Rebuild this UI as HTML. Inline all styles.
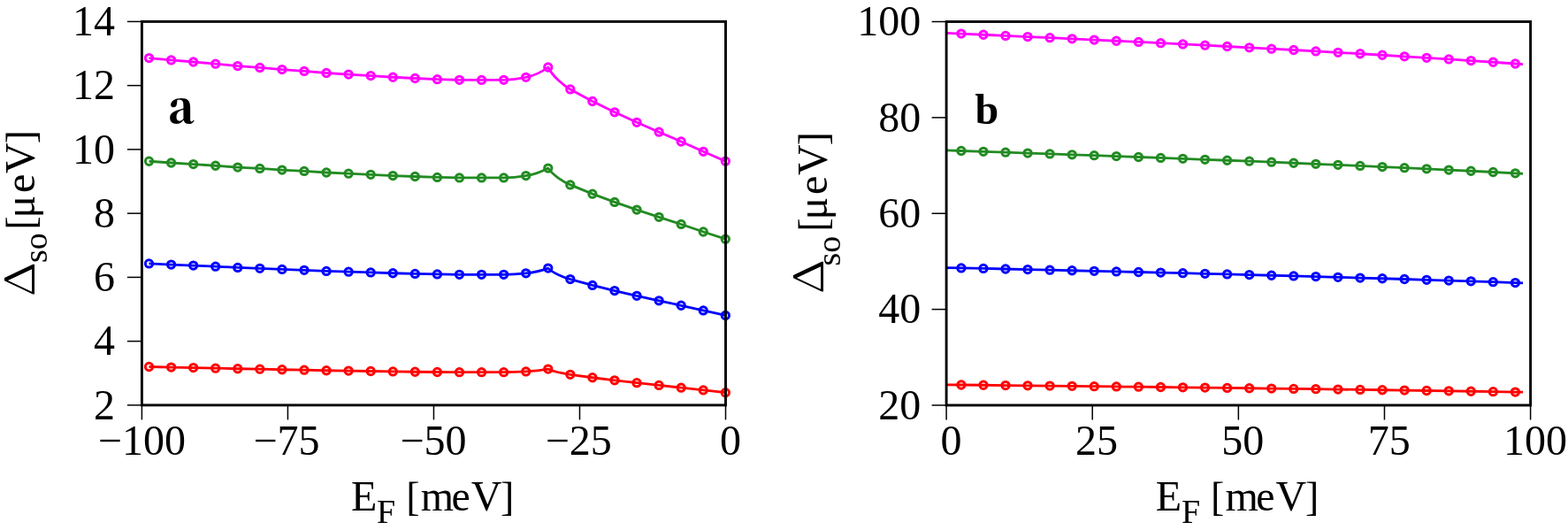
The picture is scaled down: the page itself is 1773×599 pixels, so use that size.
<!DOCTYPE html>
<html><head><meta charset="utf-8"><title>plot</title>
<style>html,body{margin:0;padding:0;background:#fff;overflow:hidden}svg{display:block}</style>
</head><body>
<svg width="1773" height="599" viewBox="0 0 1773 599">
<rect width="100%" height="100%" fill="#fff"/>
<g fill="none" stroke-linejoin="round" stroke-linecap="butt">
<path d="M168.50,65.60 L193.57,67.90 L218.64,70.00 L243.71,72.20 L268.78,74.60 L293.85,76.40 L318.92,78.60 L343.99,80.40 L369.06,82.50 L394.13,84.05 L419.20,85.60 L444.27,87.26 L469.34,88.50 L494.41,89.65 L519.48,90.30 L544.55,90.40 L569.62,90.30 C577.62,90.20 586.69,89.00 594.69,87.30 C602.69,85.80 611.76,82.00 619.76,76.00 C624.76,86.00 636.83,96.50 644.83,100.90 L669.90,114.50 L694.97,126.80 L720.04,138.30 L745.11,149.20 L770.18,160.00 L795.25,171.30 L820.32,182.20" stroke="#ff00ff" stroke-width="2.8"/>
<circle cx="168.50" cy="65.60" r="4.15" stroke="#ff00ff" stroke-width="3.0"/>
<circle cx="193.57" cy="67.90" r="4.15" stroke="#ff00ff" stroke-width="3.0"/>
<circle cx="218.64" cy="70.00" r="4.15" stroke="#ff00ff" stroke-width="3.0"/>
<circle cx="243.71" cy="72.20" r="4.15" stroke="#ff00ff" stroke-width="3.0"/>
<circle cx="268.78" cy="74.60" r="4.15" stroke="#ff00ff" stroke-width="3.0"/>
<circle cx="293.85" cy="76.40" r="4.15" stroke="#ff00ff" stroke-width="3.0"/>
<circle cx="318.92" cy="78.60" r="4.15" stroke="#ff00ff" stroke-width="3.0"/>
<circle cx="343.99" cy="80.40" r="4.15" stroke="#ff00ff" stroke-width="3.0"/>
<circle cx="369.06" cy="82.50" r="4.15" stroke="#ff00ff" stroke-width="3.0"/>
<circle cx="394.13" cy="84.05" r="4.15" stroke="#ff00ff" stroke-width="3.0"/>
<circle cx="419.20" cy="85.60" r="4.15" stroke="#ff00ff" stroke-width="3.0"/>
<circle cx="444.27" cy="87.26" r="4.15" stroke="#ff00ff" stroke-width="3.0"/>
<circle cx="469.34" cy="88.50" r="4.15" stroke="#ff00ff" stroke-width="3.0"/>
<circle cx="494.41" cy="89.65" r="4.15" stroke="#ff00ff" stroke-width="3.0"/>
<circle cx="519.48" cy="90.30" r="4.15" stroke="#ff00ff" stroke-width="3.0"/>
<circle cx="544.55" cy="90.40" r="4.15" stroke="#ff00ff" stroke-width="3.0"/>
<circle cx="569.62" cy="90.30" r="4.15" stroke="#ff00ff" stroke-width="3.0"/>
<circle cx="594.69" cy="87.30" r="4.15" stroke="#ff00ff" stroke-width="3.0"/>
<circle cx="619.76" cy="76.00" r="4.15" stroke="#ff00ff" stroke-width="3.0"/>
<circle cx="644.83" cy="100.90" r="4.15" stroke="#ff00ff" stroke-width="3.0"/>
<circle cx="669.90" cy="114.50" r="4.15" stroke="#ff00ff" stroke-width="3.0"/>
<circle cx="694.97" cy="126.80" r="4.15" stroke="#ff00ff" stroke-width="3.0"/>
<circle cx="720.04" cy="138.30" r="4.15" stroke="#ff00ff" stroke-width="3.0"/>
<circle cx="745.11" cy="149.20" r="4.15" stroke="#ff00ff" stroke-width="3.0"/>
<circle cx="770.18" cy="160.00" r="4.15" stroke="#ff00ff" stroke-width="3.0"/>
<circle cx="795.25" cy="171.30" r="4.15" stroke="#ff00ff" stroke-width="3.0"/>
<circle cx="820.32" cy="182.20" r="4.15" stroke="#ff00ff" stroke-width="3.0"/>
<path d="M168.50,182.25 L193.57,183.98 L218.64,185.57 L243.71,187.23 L268.78,189.04 L293.85,190.40 L318.92,192.06 L343.99,193.41 L369.06,195.00 L394.13,196.17 L419.20,197.34 L444.27,198.59 L469.34,199.52 L494.41,200.39 L519.48,200.88 L544.55,200.96 L569.62,200.88 C577.62,200.81 586.69,199.90 594.69,198.62 C602.69,197.49 611.76,194.62 619.76,190.09 C624.76,197.64 636.83,205.56 644.83,208.88 L669.90,219.14 L694.97,228.41 L720.04,237.09 L745.11,245.31 L770.18,253.46 L795.25,261.98 L820.32,270.20" stroke="#228b22" stroke-width="2.8"/>
<circle cx="168.50" cy="182.25" r="4.15" stroke="#228b22" stroke-width="3.0"/>
<circle cx="193.57" cy="183.98" r="4.15" stroke="#228b22" stroke-width="3.0"/>
<circle cx="218.64" cy="185.57" r="4.15" stroke="#228b22" stroke-width="3.0"/>
<circle cx="243.71" cy="187.23" r="4.15" stroke="#228b22" stroke-width="3.0"/>
<circle cx="268.78" cy="189.04" r="4.15" stroke="#228b22" stroke-width="3.0"/>
<circle cx="293.85" cy="190.40" r="4.15" stroke="#228b22" stroke-width="3.0"/>
<circle cx="318.92" cy="192.06" r="4.15" stroke="#228b22" stroke-width="3.0"/>
<circle cx="343.99" cy="193.41" r="4.15" stroke="#228b22" stroke-width="3.0"/>
<circle cx="369.06" cy="195.00" r="4.15" stroke="#228b22" stroke-width="3.0"/>
<circle cx="394.13" cy="196.17" r="4.15" stroke="#228b22" stroke-width="3.0"/>
<circle cx="419.20" cy="197.34" r="4.15" stroke="#228b22" stroke-width="3.0"/>
<circle cx="444.27" cy="198.59" r="4.15" stroke="#228b22" stroke-width="3.0"/>
<circle cx="469.34" cy="199.52" r="4.15" stroke="#228b22" stroke-width="3.0"/>
<circle cx="494.41" cy="200.39" r="4.15" stroke="#228b22" stroke-width="3.0"/>
<circle cx="519.48" cy="200.88" r="4.15" stroke="#228b22" stroke-width="3.0"/>
<circle cx="544.55" cy="200.96" r="4.15" stroke="#228b22" stroke-width="3.0"/>
<circle cx="569.62" cy="200.88" r="4.15" stroke="#228b22" stroke-width="3.0"/>
<circle cx="594.69" cy="198.62" r="4.15" stroke="#228b22" stroke-width="3.0"/>
<circle cx="619.76" cy="190.09" r="4.15" stroke="#228b22" stroke-width="3.0"/>
<circle cx="644.83" cy="208.88" r="4.15" stroke="#228b22" stroke-width="3.0"/>
<circle cx="669.90" cy="219.14" r="4.15" stroke="#228b22" stroke-width="3.0"/>
<circle cx="694.97" cy="228.41" r="4.15" stroke="#228b22" stroke-width="3.0"/>
<circle cx="720.04" cy="237.09" r="4.15" stroke="#228b22" stroke-width="3.0"/>
<circle cx="745.11" cy="245.31" r="4.15" stroke="#228b22" stroke-width="3.0"/>
<circle cx="770.18" cy="253.46" r="4.15" stroke="#228b22" stroke-width="3.0"/>
<circle cx="795.25" cy="261.98" r="4.15" stroke="#228b22" stroke-width="3.0"/>
<circle cx="820.32" cy="270.20" r="4.15" stroke="#228b22" stroke-width="3.0"/>
<path d="M168.50,297.90 L193.57,299.05 L218.64,300.11 L243.71,301.21 L268.78,302.42 L293.85,303.32 L318.92,304.42 L343.99,305.33 L369.06,306.38 L394.13,307.16 L419.20,307.93 L444.27,308.77 L469.34,309.39 L494.41,309.97 L519.48,310.29 L544.55,310.34 L569.62,310.29 C577.62,310.24 586.69,309.64 594.69,308.79 C602.69,308.03 611.76,306.13 619.76,303.12 C624.76,308.13 636.83,313.40 644.83,315.61 L669.90,322.43 L694.97,328.60 L720.04,334.37 L745.11,339.84 L770.18,345.26 L795.25,350.93 L820.32,356.40" stroke="#0000ff" stroke-width="2.8"/>
<circle cx="168.50" cy="297.90" r="4.15" stroke="#0000ff" stroke-width="3.0"/>
<circle cx="193.57" cy="299.05" r="4.15" stroke="#0000ff" stroke-width="3.0"/>
<circle cx="218.64" cy="300.11" r="4.15" stroke="#0000ff" stroke-width="3.0"/>
<circle cx="243.71" cy="301.21" r="4.15" stroke="#0000ff" stroke-width="3.0"/>
<circle cx="268.78" cy="302.42" r="4.15" stroke="#0000ff" stroke-width="3.0"/>
<circle cx="293.85" cy="303.32" r="4.15" stroke="#0000ff" stroke-width="3.0"/>
<circle cx="318.92" cy="304.42" r="4.15" stroke="#0000ff" stroke-width="3.0"/>
<circle cx="343.99" cy="305.33" r="4.15" stroke="#0000ff" stroke-width="3.0"/>
<circle cx="369.06" cy="306.38" r="4.15" stroke="#0000ff" stroke-width="3.0"/>
<circle cx="394.13" cy="307.16" r="4.15" stroke="#0000ff" stroke-width="3.0"/>
<circle cx="419.20" cy="307.93" r="4.15" stroke="#0000ff" stroke-width="3.0"/>
<circle cx="444.27" cy="308.77" r="4.15" stroke="#0000ff" stroke-width="3.0"/>
<circle cx="469.34" cy="309.39" r="4.15" stroke="#0000ff" stroke-width="3.0"/>
<circle cx="494.41" cy="309.97" r="4.15" stroke="#0000ff" stroke-width="3.0"/>
<circle cx="519.48" cy="310.29" r="4.15" stroke="#0000ff" stroke-width="3.0"/>
<circle cx="544.55" cy="310.34" r="4.15" stroke="#0000ff" stroke-width="3.0"/>
<circle cx="569.62" cy="310.29" r="4.15" stroke="#0000ff" stroke-width="3.0"/>
<circle cx="594.69" cy="308.79" r="4.15" stroke="#0000ff" stroke-width="3.0"/>
<circle cx="619.76" cy="303.12" r="4.15" stroke="#0000ff" stroke-width="3.0"/>
<circle cx="644.83" cy="315.61" r="4.15" stroke="#0000ff" stroke-width="3.0"/>
<circle cx="669.90" cy="322.43" r="4.15" stroke="#0000ff" stroke-width="3.0"/>
<circle cx="694.97" cy="328.60" r="4.15" stroke="#0000ff" stroke-width="3.0"/>
<circle cx="720.04" cy="334.37" r="4.15" stroke="#0000ff" stroke-width="3.0"/>
<circle cx="745.11" cy="339.84" r="4.15" stroke="#0000ff" stroke-width="3.0"/>
<circle cx="770.18" cy="345.26" r="4.15" stroke="#0000ff" stroke-width="3.0"/>
<circle cx="795.25" cy="350.93" r="4.15" stroke="#0000ff" stroke-width="3.0"/>
<circle cx="820.32" cy="356.40" r="4.15" stroke="#0000ff" stroke-width="3.0"/>
<path d="M168.50,414.50 L193.57,415.08 L218.64,415.60 L243.71,416.15 L268.78,416.75 L293.85,417.20 L318.92,417.76 L343.99,418.21 L369.06,418.73 L394.13,419.12 L419.20,419.51 L444.27,419.92 L469.34,420.23 L494.41,420.52 L519.48,420.68 L544.55,420.71 L569.62,420.68 C577.62,420.66 586.69,420.36 594.69,419.93 C602.69,419.56 611.76,418.61 619.76,417.10 C624.76,419.61 636.83,422.24 644.83,423.34 L669.90,426.74 L694.97,429.82 L720.04,432.70 L745.11,435.43 L770.18,438.14 L795.25,440.97 L820.32,443.70" stroke="#ff0000" stroke-width="2.8"/>
<circle cx="168.50" cy="414.50" r="4.15" stroke="#ff0000" stroke-width="3.0"/>
<circle cx="193.57" cy="415.08" r="4.15" stroke="#ff0000" stroke-width="3.0"/>
<circle cx="218.64" cy="415.60" r="4.15" stroke="#ff0000" stroke-width="3.0"/>
<circle cx="243.71" cy="416.15" r="4.15" stroke="#ff0000" stroke-width="3.0"/>
<circle cx="268.78" cy="416.75" r="4.15" stroke="#ff0000" stroke-width="3.0"/>
<circle cx="293.85" cy="417.20" r="4.15" stroke="#ff0000" stroke-width="3.0"/>
<circle cx="318.92" cy="417.76" r="4.15" stroke="#ff0000" stroke-width="3.0"/>
<circle cx="343.99" cy="418.21" r="4.15" stroke="#ff0000" stroke-width="3.0"/>
<circle cx="369.06" cy="418.73" r="4.15" stroke="#ff0000" stroke-width="3.0"/>
<circle cx="394.13" cy="419.12" r="4.15" stroke="#ff0000" stroke-width="3.0"/>
<circle cx="419.20" cy="419.51" r="4.15" stroke="#ff0000" stroke-width="3.0"/>
<circle cx="444.27" cy="419.92" r="4.15" stroke="#ff0000" stroke-width="3.0"/>
<circle cx="469.34" cy="420.23" r="4.15" stroke="#ff0000" stroke-width="3.0"/>
<circle cx="494.41" cy="420.52" r="4.15" stroke="#ff0000" stroke-width="3.0"/>
<circle cx="519.48" cy="420.68" r="4.15" stroke="#ff0000" stroke-width="3.0"/>
<circle cx="544.55" cy="420.71" r="4.15" stroke="#ff0000" stroke-width="3.0"/>
<circle cx="569.62" cy="420.68" r="4.15" stroke="#ff0000" stroke-width="3.0"/>
<circle cx="594.69" cy="419.93" r="4.15" stroke="#ff0000" stroke-width="3.0"/>
<circle cx="619.76" cy="417.10" r="4.15" stroke="#ff0000" stroke-width="3.0"/>
<circle cx="644.83" cy="423.34" r="4.15" stroke="#ff0000" stroke-width="3.0"/>
<circle cx="669.90" cy="426.74" r="4.15" stroke="#ff0000" stroke-width="3.0"/>
<circle cx="694.97" cy="429.82" r="4.15" stroke="#ff0000" stroke-width="3.0"/>
<circle cx="720.04" cy="432.70" r="4.15" stroke="#ff0000" stroke-width="3.0"/>
<circle cx="745.11" cy="435.43" r="4.15" stroke="#ff0000" stroke-width="3.0"/>
<circle cx="770.18" cy="438.14" r="4.15" stroke="#ff0000" stroke-width="3.0"/>
<circle cx="795.25" cy="440.97" r="4.15" stroke="#ff0000" stroke-width="3.0"/>
<circle cx="820.32" cy="443.70" r="4.15" stroke="#ff0000" stroke-width="3.0"/>
</g>
<g fill="none" stroke-linejoin="round">
<path d="M1070.10,37.34 L1086.90,38.10 L1111.96,39.24 L1137.02,40.38 L1162.08,41.53 L1187.14,42.69 L1212.20,43.86 L1237.26,45.04 L1262.32,46.23 L1287.38,47.45 L1312.44,48.67 L1337.50,49.92 L1362.56,51.19 L1387.62,52.48 L1412.68,53.79 L1437.74,55.13 L1462.80,56.49 L1487.86,57.89 L1512.92,59.31 L1537.98,60.77 L1563.04,62.26 L1588.10,63.78 L1613.16,65.34 L1638.22,66.94 L1663.28,68.58 L1688.34,70.26 L1713.40,71.98 L1722.00,72.57" stroke="#ff00ff" stroke-width="2.8"/>
<circle cx="1086.90" cy="38.10" r="4.15" stroke="#ff00ff" stroke-width="3.0"/>
<circle cx="1111.96" cy="39.24" r="4.15" stroke="#ff00ff" stroke-width="3.0"/>
<circle cx="1137.02" cy="40.38" r="4.15" stroke="#ff00ff" stroke-width="3.0"/>
<circle cx="1162.08" cy="41.53" r="4.15" stroke="#ff00ff" stroke-width="3.0"/>
<circle cx="1187.14" cy="42.69" r="4.15" stroke="#ff00ff" stroke-width="3.0"/>
<circle cx="1212.20" cy="43.86" r="4.15" stroke="#ff00ff" stroke-width="3.0"/>
<circle cx="1237.26" cy="45.04" r="4.15" stroke="#ff00ff" stroke-width="3.0"/>
<circle cx="1262.32" cy="46.23" r="4.15" stroke="#ff00ff" stroke-width="3.0"/>
<circle cx="1287.38" cy="47.45" r="4.15" stroke="#ff00ff" stroke-width="3.0"/>
<circle cx="1312.44" cy="48.67" r="4.15" stroke="#ff00ff" stroke-width="3.0"/>
<circle cx="1337.50" cy="49.92" r="4.15" stroke="#ff00ff" stroke-width="3.0"/>
<circle cx="1362.56" cy="51.19" r="4.15" stroke="#ff00ff" stroke-width="3.0"/>
<circle cx="1387.62" cy="52.48" r="4.15" stroke="#ff00ff" stroke-width="3.0"/>
<circle cx="1412.68" cy="53.79" r="4.15" stroke="#ff00ff" stroke-width="3.0"/>
<circle cx="1437.74" cy="55.13" r="4.15" stroke="#ff00ff" stroke-width="3.0"/>
<circle cx="1462.80" cy="56.49" r="4.15" stroke="#ff00ff" stroke-width="3.0"/>
<circle cx="1487.86" cy="57.89" r="4.15" stroke="#ff00ff" stroke-width="3.0"/>
<circle cx="1512.92" cy="59.31" r="4.15" stroke="#ff00ff" stroke-width="3.0"/>
<circle cx="1537.98" cy="60.77" r="4.15" stroke="#ff00ff" stroke-width="3.0"/>
<circle cx="1563.04" cy="62.26" r="4.15" stroke="#ff00ff" stroke-width="3.0"/>
<circle cx="1588.10" cy="63.78" r="4.15" stroke="#ff00ff" stroke-width="3.0"/>
<circle cx="1613.16" cy="65.34" r="4.15" stroke="#ff00ff" stroke-width="3.0"/>
<circle cx="1638.22" cy="66.94" r="4.15" stroke="#ff00ff" stroke-width="3.0"/>
<circle cx="1663.28" cy="68.58" r="4.15" stroke="#ff00ff" stroke-width="3.0"/>
<circle cx="1688.34" cy="70.26" r="4.15" stroke="#ff00ff" stroke-width="3.0"/>
<circle cx="1713.40" cy="71.98" r="4.15" stroke="#ff00ff" stroke-width="3.0"/>
<path d="M1070.10,169.93 L1086.90,170.50 L1111.96,171.35 L1137.02,172.20 L1162.08,173.06 L1187.14,173.93 L1212.20,174.80 L1237.26,175.68 L1262.32,176.58 L1287.38,177.48 L1312.44,178.40 L1337.50,179.33 L1362.56,180.28 L1387.62,181.24 L1412.68,182.22 L1437.74,183.22 L1462.80,184.24 L1487.86,185.28 L1512.92,186.35 L1537.98,187.43 L1563.04,188.54 L1588.10,189.68 L1613.16,190.85 L1638.22,192.04 L1663.28,193.27 L1688.34,194.52 L1713.40,195.81 L1722.00,196.25" stroke="#228b22" stroke-width="2.8"/>
<circle cx="1086.90" cy="170.50" r="4.15" stroke="#228b22" stroke-width="3.0"/>
<circle cx="1111.96" cy="171.35" r="4.15" stroke="#228b22" stroke-width="3.0"/>
<circle cx="1137.02" cy="172.20" r="4.15" stroke="#228b22" stroke-width="3.0"/>
<circle cx="1162.08" cy="173.06" r="4.15" stroke="#228b22" stroke-width="3.0"/>
<circle cx="1187.14" cy="173.93" r="4.15" stroke="#228b22" stroke-width="3.0"/>
<circle cx="1212.20" cy="174.80" r="4.15" stroke="#228b22" stroke-width="3.0"/>
<circle cx="1237.26" cy="175.68" r="4.15" stroke="#228b22" stroke-width="3.0"/>
<circle cx="1262.32" cy="176.58" r="4.15" stroke="#228b22" stroke-width="3.0"/>
<circle cx="1287.38" cy="177.48" r="4.15" stroke="#228b22" stroke-width="3.0"/>
<circle cx="1312.44" cy="178.40" r="4.15" stroke="#228b22" stroke-width="3.0"/>
<circle cx="1337.50" cy="179.33" r="4.15" stroke="#228b22" stroke-width="3.0"/>
<circle cx="1362.56" cy="180.28" r="4.15" stroke="#228b22" stroke-width="3.0"/>
<circle cx="1387.62" cy="181.24" r="4.15" stroke="#228b22" stroke-width="3.0"/>
<circle cx="1412.68" cy="182.22" r="4.15" stroke="#228b22" stroke-width="3.0"/>
<circle cx="1437.74" cy="183.22" r="4.15" stroke="#228b22" stroke-width="3.0"/>
<circle cx="1462.80" cy="184.24" r="4.15" stroke="#228b22" stroke-width="3.0"/>
<circle cx="1487.86" cy="185.28" r="4.15" stroke="#228b22" stroke-width="3.0"/>
<circle cx="1512.92" cy="186.35" r="4.15" stroke="#228b22" stroke-width="3.0"/>
<circle cx="1537.98" cy="187.43" r="4.15" stroke="#228b22" stroke-width="3.0"/>
<circle cx="1563.04" cy="188.54" r="4.15" stroke="#228b22" stroke-width="3.0"/>
<circle cx="1588.10" cy="189.68" r="4.15" stroke="#228b22" stroke-width="3.0"/>
<circle cx="1613.16" cy="190.85" r="4.15" stroke="#228b22" stroke-width="3.0"/>
<circle cx="1638.22" cy="192.04" r="4.15" stroke="#228b22" stroke-width="3.0"/>
<circle cx="1663.28" cy="193.27" r="4.15" stroke="#228b22" stroke-width="3.0"/>
<circle cx="1688.34" cy="194.52" r="4.15" stroke="#228b22" stroke-width="3.0"/>
<circle cx="1713.40" cy="195.81" r="4.15" stroke="#228b22" stroke-width="3.0"/>
<path d="M1070.10,302.53 L1086.90,302.90 L1111.96,303.46 L1137.02,304.02 L1162.08,304.58 L1187.14,305.15 L1212.20,305.73 L1237.26,306.31 L1262.32,306.89 L1287.38,307.49 L1312.44,308.09 L1337.50,308.70 L1362.56,309.33 L1387.62,309.96 L1412.68,310.60 L1437.74,311.26 L1462.80,311.93 L1487.86,312.62 L1512.92,313.31 L1537.98,314.03 L1563.04,314.76 L1588.10,315.51 L1613.16,316.28 L1638.22,317.06 L1663.28,317.86 L1688.34,318.69 L1713.40,319.54 L1722.00,319.83" stroke="#0000ff" stroke-width="2.8"/>
<circle cx="1086.90" cy="302.90" r="4.15" stroke="#0000ff" stroke-width="3.0"/>
<circle cx="1111.96" cy="303.46" r="4.15" stroke="#0000ff" stroke-width="3.0"/>
<circle cx="1137.02" cy="304.02" r="4.15" stroke="#0000ff" stroke-width="3.0"/>
<circle cx="1162.08" cy="304.58" r="4.15" stroke="#0000ff" stroke-width="3.0"/>
<circle cx="1187.14" cy="305.15" r="4.15" stroke="#0000ff" stroke-width="3.0"/>
<circle cx="1212.20" cy="305.73" r="4.15" stroke="#0000ff" stroke-width="3.0"/>
<circle cx="1237.26" cy="306.31" r="4.15" stroke="#0000ff" stroke-width="3.0"/>
<circle cx="1262.32" cy="306.89" r="4.15" stroke="#0000ff" stroke-width="3.0"/>
<circle cx="1287.38" cy="307.49" r="4.15" stroke="#0000ff" stroke-width="3.0"/>
<circle cx="1312.44" cy="308.09" r="4.15" stroke="#0000ff" stroke-width="3.0"/>
<circle cx="1337.50" cy="308.70" r="4.15" stroke="#0000ff" stroke-width="3.0"/>
<circle cx="1362.56" cy="309.33" r="4.15" stroke="#0000ff" stroke-width="3.0"/>
<circle cx="1387.62" cy="309.96" r="4.15" stroke="#0000ff" stroke-width="3.0"/>
<circle cx="1412.68" cy="310.60" r="4.15" stroke="#0000ff" stroke-width="3.0"/>
<circle cx="1437.74" cy="311.26" r="4.15" stroke="#0000ff" stroke-width="3.0"/>
<circle cx="1462.80" cy="311.93" r="4.15" stroke="#0000ff" stroke-width="3.0"/>
<circle cx="1487.86" cy="312.62" r="4.15" stroke="#0000ff" stroke-width="3.0"/>
<circle cx="1512.92" cy="313.31" r="4.15" stroke="#0000ff" stroke-width="3.0"/>
<circle cx="1537.98" cy="314.03" r="4.15" stroke="#0000ff" stroke-width="3.0"/>
<circle cx="1563.04" cy="314.76" r="4.15" stroke="#0000ff" stroke-width="3.0"/>
<circle cx="1588.10" cy="315.51" r="4.15" stroke="#0000ff" stroke-width="3.0"/>
<circle cx="1613.16" cy="316.28" r="4.15" stroke="#0000ff" stroke-width="3.0"/>
<circle cx="1638.22" cy="317.06" r="4.15" stroke="#0000ff" stroke-width="3.0"/>
<circle cx="1663.28" cy="317.86" r="4.15" stroke="#0000ff" stroke-width="3.0"/>
<circle cx="1688.34" cy="318.69" r="4.15" stroke="#0000ff" stroke-width="3.0"/>
<circle cx="1713.40" cy="319.54" r="4.15" stroke="#0000ff" stroke-width="3.0"/>
<path d="M1070.10,434.82 L1086.90,435.00 L1111.96,435.27 L1137.02,435.54 L1162.08,435.82 L1187.14,436.09 L1212.20,436.37 L1237.26,436.65 L1262.32,436.94 L1287.38,437.22 L1312.44,437.52 L1337.50,437.81 L1362.56,438.12 L1387.62,438.42 L1412.68,438.73 L1437.74,439.05 L1462.80,439.38 L1487.86,439.71 L1512.92,440.05 L1537.98,440.39 L1563.04,440.75 L1588.10,441.11 L1613.16,441.48 L1638.22,441.86 L1663.28,442.25 L1688.34,442.65 L1713.40,443.06 L1722.00,443.20" stroke="#ff0000" stroke-width="2.8"/>
<circle cx="1086.90" cy="435.00" r="4.15" stroke="#ff0000" stroke-width="3.0"/>
<circle cx="1111.96" cy="435.27" r="4.15" stroke="#ff0000" stroke-width="3.0"/>
<circle cx="1137.02" cy="435.54" r="4.15" stroke="#ff0000" stroke-width="3.0"/>
<circle cx="1162.08" cy="435.82" r="4.15" stroke="#ff0000" stroke-width="3.0"/>
<circle cx="1187.14" cy="436.09" r="4.15" stroke="#ff0000" stroke-width="3.0"/>
<circle cx="1212.20" cy="436.37" r="4.15" stroke="#ff0000" stroke-width="3.0"/>
<circle cx="1237.26" cy="436.65" r="4.15" stroke="#ff0000" stroke-width="3.0"/>
<circle cx="1262.32" cy="436.94" r="4.15" stroke="#ff0000" stroke-width="3.0"/>
<circle cx="1287.38" cy="437.22" r="4.15" stroke="#ff0000" stroke-width="3.0"/>
<circle cx="1312.44" cy="437.52" r="4.15" stroke="#ff0000" stroke-width="3.0"/>
<circle cx="1337.50" cy="437.81" r="4.15" stroke="#ff0000" stroke-width="3.0"/>
<circle cx="1362.56" cy="438.12" r="4.15" stroke="#ff0000" stroke-width="3.0"/>
<circle cx="1387.62" cy="438.42" r="4.15" stroke="#ff0000" stroke-width="3.0"/>
<circle cx="1412.68" cy="438.73" r="4.15" stroke="#ff0000" stroke-width="3.0"/>
<circle cx="1437.74" cy="439.05" r="4.15" stroke="#ff0000" stroke-width="3.0"/>
<circle cx="1462.80" cy="439.38" r="4.15" stroke="#ff0000" stroke-width="3.0"/>
<circle cx="1487.86" cy="439.71" r="4.15" stroke="#ff0000" stroke-width="3.0"/>
<circle cx="1512.92" cy="440.05" r="4.15" stroke="#ff0000" stroke-width="3.0"/>
<circle cx="1537.98" cy="440.39" r="4.15" stroke="#ff0000" stroke-width="3.0"/>
<circle cx="1563.04" cy="440.75" r="4.15" stroke="#ff0000" stroke-width="3.0"/>
<circle cx="1588.10" cy="441.11" r="4.15" stroke="#ff0000" stroke-width="3.0"/>
<circle cx="1613.16" cy="441.48" r="4.15" stroke="#ff0000" stroke-width="3.0"/>
<circle cx="1638.22" cy="441.86" r="4.15" stroke="#ff0000" stroke-width="3.0"/>
<circle cx="1663.28" cy="442.25" r="4.15" stroke="#ff0000" stroke-width="3.0"/>
<circle cx="1688.34" cy="442.65" r="4.15" stroke="#ff0000" stroke-width="3.0"/>
<circle cx="1713.40" cy="443.06" r="4.15" stroke="#ff0000" stroke-width="3.0"/>
</g>
<rect x="160.4" y="24.4" width="660.10" height="433.50" fill="none" stroke="#000" stroke-width="2.9"/>
<rect x="1070.1" y="24.5" width="660.50" height="433.50" fill="none" stroke="#000" stroke-width="2.9"/>
<g font-family='"Liberation Serif", "Times New Roman", serif' font-size="48" fill="#000">
<line x1="143.90" y1="457.90" x2="160.40" y2="457.90" stroke="#000" stroke-width="1.5"/>
<text x="130.00" y="473.60" text-anchor="end">2</text>
<line x1="143.90" y1="385.65" x2="160.40" y2="385.65" stroke="#000" stroke-width="1.5"/>
<text x="130.00" y="401.35" text-anchor="end">4</text>
<line x1="143.90" y1="313.40" x2="160.40" y2="313.40" stroke="#000" stroke-width="1.5"/>
<text x="130.00" y="329.10" text-anchor="end">6</text>
<line x1="143.90" y1="241.15" x2="160.40" y2="241.15" stroke="#000" stroke-width="1.5"/>
<text x="130.00" y="256.85" text-anchor="end">8</text>
<line x1="143.90" y1="168.90" x2="160.40" y2="168.90" stroke="#000" stroke-width="1.5"/>
<text x="130.00" y="184.60" text-anchor="end">10</text>
<line x1="143.90" y1="96.65" x2="160.40" y2="96.65" stroke="#000" stroke-width="1.5"/>
<text x="130.00" y="112.35" text-anchor="end">12</text>
<line x1="143.90" y1="24.40" x2="160.40" y2="24.40" stroke="#000" stroke-width="1.5"/>
<text x="130.00" y="40.10" text-anchor="end">14</text>
<line x1="1053.60" y1="458.00" x2="1070.10" y2="458.00" stroke="#000" stroke-width="1.5"/>
<text x="1041.20" y="473.70" text-anchor="end">20</text>
<line x1="1053.60" y1="349.62" x2="1070.10" y2="349.62" stroke="#000" stroke-width="1.5"/>
<text x="1041.20" y="365.32" text-anchor="end">40</text>
<line x1="1053.60" y1="241.25" x2="1070.10" y2="241.25" stroke="#000" stroke-width="1.5"/>
<text x="1041.20" y="256.95" text-anchor="end">60</text>
<line x1="1053.60" y1="132.88" x2="1070.10" y2="132.88" stroke="#000" stroke-width="1.5"/>
<text x="1041.20" y="148.57" text-anchor="end">80</text>
<line x1="1053.60" y1="24.50" x2="1070.10" y2="24.50" stroke="#000" stroke-width="1.5"/>
<text x="1041.20" y="40.20" text-anchor="end">100</text>
<line x1="160.40" y1="457.90" x2="160.40" y2="474.40" stroke="#000" stroke-width="1.5"/>
<text x="160.40" y="514.4" text-anchor="middle">&#8722;100</text>
<line x1="325.43" y1="457.90" x2="325.43" y2="474.40" stroke="#000" stroke-width="1.5"/>
<text x="323.93" y="514.4" text-anchor="middle">&#8722;75</text>
<line x1="490.45" y1="457.90" x2="490.45" y2="474.40" stroke="#000" stroke-width="1.5"/>
<text x="489.95" y="514.4" text-anchor="middle">&#8722;50</text>
<line x1="655.48" y1="457.90" x2="655.48" y2="474.40" stroke="#000" stroke-width="1.5"/>
<text x="654.27" y="514.4" text-anchor="middle">&#8722;25</text>
<line x1="820.50" y1="457.90" x2="820.50" y2="474.40" stroke="#000" stroke-width="1.5"/>
<text x="826.00" y="514.4" text-anchor="middle">0</text>
<line x1="1070.10" y1="458.00" x2="1070.10" y2="474.50" stroke="#000" stroke-width="1.5"/>
<text x="1075.60" y="514.4" text-anchor="middle">0</text>
<line x1="1235.22" y1="458.00" x2="1235.22" y2="474.50" stroke="#000" stroke-width="1.5"/>
<text x="1240.02" y="514.4" text-anchor="middle">25</text>
<line x1="1400.35" y1="458.00" x2="1400.35" y2="474.50" stroke="#000" stroke-width="1.5"/>
<text x="1405.35" y="514.4" text-anchor="middle">50</text>
<line x1="1565.47" y1="458.00" x2="1565.47" y2="474.50" stroke="#000" stroke-width="1.5"/>
<text x="1570.77" y="514.4" text-anchor="middle">75</text>
<line x1="1730.60" y1="458.00" x2="1730.60" y2="474.50" stroke="#000" stroke-width="1.5"/>
<text x="1736.10" y="514.4" text-anchor="middle">100</text>
<text y="577.1"><tspan x="397.00">E</tspan><tspan x="426.10" y="590.8" font-size="38">F</tspan><tspan x="459.30" y="577.1" font-size="46">[</tspan><tspan x="475.80 510.50 532.80">meV</tspan><tspan x="566.10" font-size="46">]</tspan></text>
<text y="577.1"><tspan x="1306.80">E</tspan><tspan x="1335.90" y="590.8" font-size="38">F</tspan><tspan x="1369.10" y="577.1" font-size="46">[</tspan><tspan x="1385.60 1420.30 1442.60">meV</tspan><tspan x="1475.90" font-size="46">]</tspan></text>
<g transform="translate(39.4,332.8) rotate(-90)"><text x="-2" y="0" transform="scale(1.2,0.966)" font-family="Noto Serif CJK SC, Liberation Serif, serif">&#916;</text><text x="35.8" y="13.8" font-size="38">so</text><text y="0"><tspan x="73.1" font-size="46">[</tspan><tspan x="86.4 114.7 136.7">&#956;eV</tspan><tspan x="170.4" font-size="46">]</tspan></text></g>
<g transform="translate(935.4,334.8) rotate(-90)"><g transform="translate(4.9,-4.4)"><text x="-2" y="0" transform="scale(1.2,0.966)" font-family="Noto Serif CJK SC, Liberation Serif, serif">&#916;</text></g><text x="34.3" y="14.3" font-size="38">so</text><text y="0"><tspan x="73.1" font-size="46">[</tspan><tspan x="86.4 114.7 136.7">&#956;eV</tspan><tspan x="170.4" font-size="46">]</tspan></text></g>
<text x="190.3" y="139.2" font-size="49" font-weight="900" font-family="Noto Serif CJK JP, Liberation Serif, serif">a</text>
<text x="1102.5" y="140" font-size="48" font-weight="bold">b</text>
</g>
</svg>
</body></html>
